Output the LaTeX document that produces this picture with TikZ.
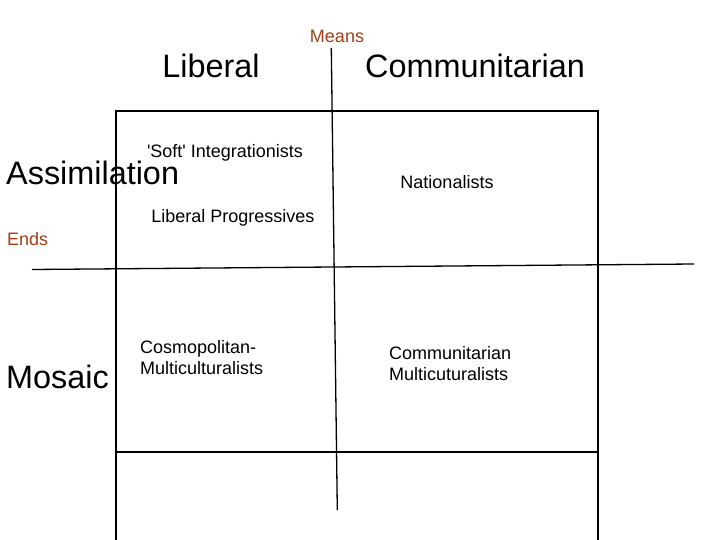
\documentclass[tikz,border=0pt]{standalone}
\usepackage{fontspec}
\setmainfont{Liberation Sans}
\definecolor{axislab}{RGB}{163,62,22}
\begin{document}
\begin{tikzpicture}[x=1pt,y=-1pt,
  big/.style={font=\fontsize{32.4}{36}\selectfont, inner sep=0pt, anchor=base},
  small/.style={font=\fontsize{18}{21.5}\selectfont, inner sep=0pt, anchor=base},
  axislabel/.style={small, text=axislab},
  frame/.style={line width=2.2pt},
  axis/.style={line width=1.3pt}]
\useasboundingbox (0,0) rectangle (720,540);
\begin{scope}
\clip (0,0) rectangle (720,540);
% frame
\coordinate (bl) at (116,545);
\coordinate (tl) at (116,111);
\coordinate (tr) at (598,111);
\coordinate (br) at (598,545);
\coordinate (ml) at (116,452);
\coordinate (mr) at (598,452);
\draw[frame] (bl) -- (tl) -- (tr) -- (br);
\draw[frame] (ml) -- (mr);
% axes
\coordinate (vtop) at (331.3,48);
\coordinate (vbot) at (337.3,510);
\coordinate (hleft) at (32,269.5);
\coordinate (hright) at (694,264);
\draw[axis] (vtop) -- (vbot);
\draw[axis] (hleft) -- (hright);
\end{scope}
% labels
\node[axislabel] (means) at (337,42.5) {Means};
\node[axislabel, anchor=base west] (ends) at (7,245) {Ends};
\node[big] (liberal) at (211,78) {Liberal};
\node[big] (comm) at (475,78) {Communitarian};
\node[big, anchor=base west] (assim) at (6,185) {Assimilation};
\node[big, anchor=base west] (mosaic) at (6,388.5) {Mosaic};
\node[small] (soft) at (225,158) {\textquotesingle Soft\textquotesingle\ Integrationists};
\node[small] (natl) at (447,189) {Nationalists};
\node[small] (libprog) at (233,222.5) {Liberal Progressives};
\node[small, anchor=base west, align=left] (cosmo) at (140,374.5) {Cosmopolitan-\\Multiculturalists};
\node[small, anchor=base west, align=left] (commmc) at (389,380.5) {Communitarian\\Multicuturalists};
\end{tikzpicture}
\end{document}
